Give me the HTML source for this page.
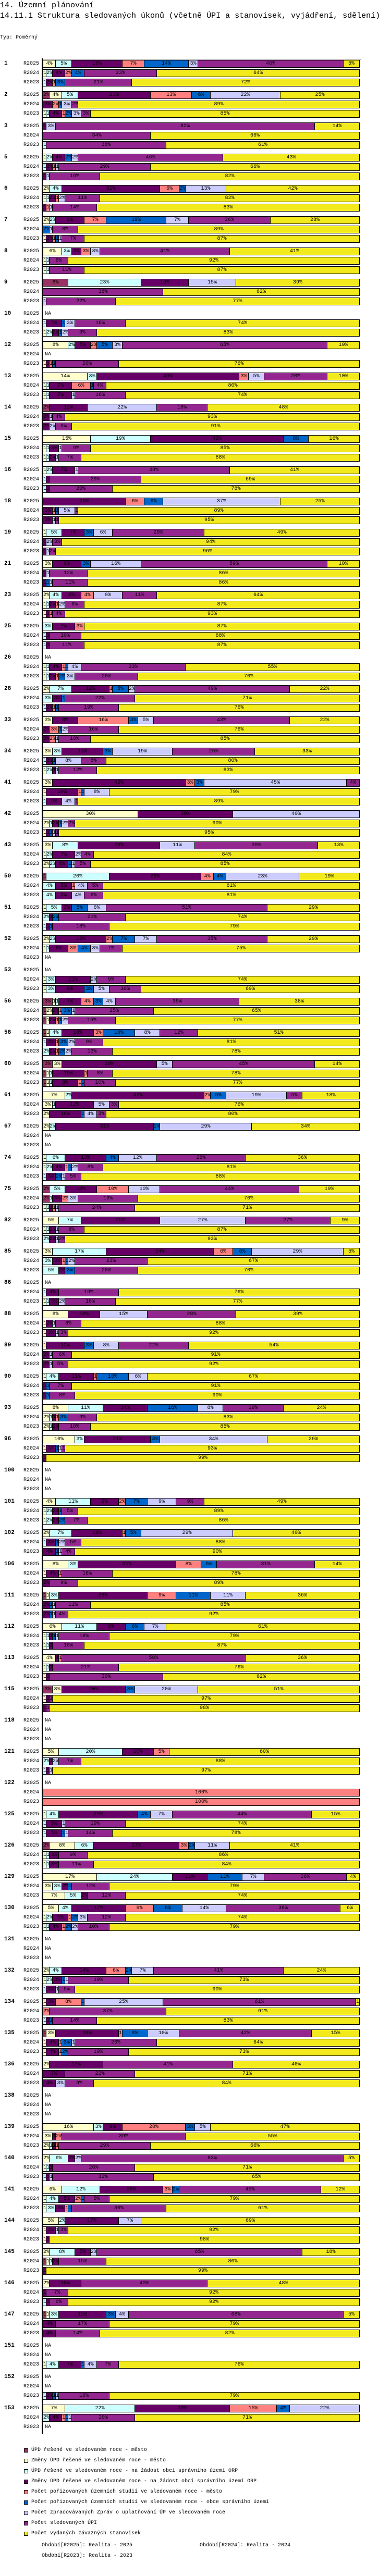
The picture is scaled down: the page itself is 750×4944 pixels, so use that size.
<!DOCTYPE html>
<html><head><meta charset="utf-8">
<style>
html,body{margin:0;padding:0;background:#fff}
body{width:750px;height:4944px;position:relative;overflow:hidden;font-family:"Liberation Mono",monospace;color:#000}
.t{position:absolute;white-space:nowrap}
.bar{position:absolute;height:15px;box-sizing:border-box;border:1px solid #000;display:flex;overflow:hidden}
.seg{height:100%;box-sizing:border-box;border-right:1px solid #000;overflow:hidden;text-align:center;font-size:10px;line-height:13px;white-space:nowrap;flex:none}
.seg:last-child{border-right:none}
.lg{position:absolute;width:8px;height:8px;border:1px solid #000;box-sizing:border-box}
</style></head><body>
<div class="t" style="left:0;top:2px;font-size:15px">14. Územní plánování</div>
<div class="t" style="left:0;top:22px;font-size:15px">14.11.1 Struktura sledovaných úkonů (včetně ÚPI a stanovisek, vyjádření, sdělení)</div>
<div class="t" style="left:0;top:67px;font-size:10px">Typ: Poměrný</div>
<div id="chart"></div>
<div id="legend"></div>
<div class="t" style="left:80px;top:4880px;font-size:10px">Období[R2025]: Realita - 2025</div>
<div class="t" style="left:383px;top:4880px;font-size:10px">Období[R2024]: Realita - 2024</div>
<div class="t" style="left:80px;top:4900px;font-size:10px">Období[R2023]: Realita - 2023</div>
<script>
const seriesNames=["ÚPD řešené ve sledovaném roce - město","Změny ÚPD řešené ve sledovaném roce - město","ÚPD řešené ve sledovaném roce - na žádost obcí správního území ORP","Změny ÚPD řešené ve sledovaném roce - na žádost obcí správního území ORP","Počet pořizovaných územních studií ve sledovaném roce - město","Počet pořizovaných územních studií ve sledovaném roce - obce správního území","Počet zpracovávaných Zpráv o uplatňování ÚP ve sledovaném roce","Počet sledovaných ÚPI","Počet vydaných závazných stanovisek"];
const seriesColors=["#993366","#ffffcc","#ccffff","#660066","#ff8080","#0066cc","#ccccff","#93278f","#f2ea1c"];
const periods=["R2025","R2024","R2023"];
const groups=[1,2,3,5,6,7,8,9,10,12,13,14,15,16,18,19,21,23,25,26,28,33,34,41,42,43,50,51,52,53,56,58,60,61,67,74,75,82,85,86,88,89,90,93,96,100,101,102,106,111,112,113,115,118,121,122,125,126,129,130,131,132,134,135,136,138,139,140,141,144,145,146,147,151,152,153];
const N=null;
const r2025=[[0,4,5,16,7,14,3,46,5],[2,4,5,23,13,6,22,0,25],[0,0,0,1,0,0,3,82,14],[0,1,2,4,0,2,2,46,43],[0,2,4,31,6,2,13,0,42],[0,2,2,9,7,19,7,26,28],[0,6,3,3,3,0,3,41,41],[8,0,23,15,0,0,15,0,39],N,[0,8,2,5,2,5,3,65,10],[0,14,3,45,3,0,5,20,10],[2,0,0,12,0,0,22,16,48],[0,15,19,42,0,8,0,0,16],[0,1,2,7,0,0,1,48,41],[0,0,0,26,6,6,37,0,25],
[0,1,5,7,0,3,6,29,49],[0,3,0,9,0,3,16,59,10],[0,2,4,6,4,0,9,11,64],[0,0,3,7,3,0,0,0,87],N,[0,2,7,12,1,5,2,49,22],[0,3,0,8,16,3,5,43,22],[0,3,3,13,0,3,19,26,33],
[0,3,0,42,3,3,45,4,0],[0,30,0,30,0,0,40,0,0],[0,3,8,26,0,0,11,39,13],[1,0,20,29,4,4,23,0,19],[0,1,5,3,0,5,6,51,29],[0,2,2,16,2,7,7,35,29],N,[3,1,1,7,4,3,4,39,38],
[1,1,4,10,3,10,8,12,51],[3,3,0,30,0,0,5,45,14],[0,7,2,42,2,5,19,5,18],[0,2,2,31,0,2,29,0,34],[0,1,6,13,0,4,12,28,36],[2,0,5,10,10,0,10,44,19],[0,5,7,25,0,0,27,27,9],[0,3,17,34,6,6,29,0,5],
N,[0,8,0,10,0,0,15,28,39],[0,1,0,12,0,3,8,22,54],[0,1,4,11,1,10,6,0,67],[0,8,11,14,0,16,8,19,24],[0,10,3,21,0,3,34,0,29],N,[0,4,11,9,2,7,9,9,49],
[0,2,7,16,1,5,29,0,40],[0,8,3,31,8,5,0,31,14],[1,1,3,28,9,11,11,0,36],[0,6,11,9,0,6,7,0,61],[0,4,0,1,1,0,0,58,36],[3,3,0,20,0,3,20,0,51],N,[0,5,20,10,5,0,0,0,60],
N,[0,1,4,25,0,4,7,44,15],[2,8,6,27,3,2,11,0,41],[0,17,24,11,0,11,7,26,4],[0,5,4,17,9,9,14,36,6],N,[0,2,4,14,6,2,7,41,24],[0,1,0,3,8,1,25,61,1],
[1,3,0,20,1,8,10,42,15],[0,2,0,17,0,0,0,41,40],N,[0,16,3,6,20,3,5,0,47],[0,2,6,2,0,0,2,83,5],[0,6,12,20,3,2,0,45,12],[0,5,2,17,0,0,7,0,69],[0,2,8,5,0,0,2,65,18],
[0,2,0,10,0,0,0,40,48],[1,1,3,15,0,3,4,68,5],N,N,[0,7,22,30,15,4,22,0,0]];
const r2024=[[0,1,2,4,2,4,0,23,64],[0,0,0,3,2,1,3,2,89],[0,0,0,0,0,0,0,34,66],[0,0,1,2,1,0,1,29,66],[0,1,1,2,1,0,2,11,82],[0,0,0,0,0,2,1,8,89],[0,1,1,0,0,0,0,6,92],[0,0,0,0,0,0,0,38,62],[0,0,1,5,0,1,3,16,74],N,[0,1,1,7,6,1,0,4,80],[0,0,0,2,0,0,1,4,93],[0,1,1,3,0,0,1,9,85],[0,0,1,1,0,0,0,29,69],[0,0,0,3,1,1,5,1,89],
[0,0,0,1,0,0,2,3,94],[0,0,0,1,0,0,1,12,86],[0,1,1,2,1,0,2,6,87],[0,0,1,1,0,0,0,10,88],[0,1,1,4,1,1,4,33,55],[0,0,3,3,0,1,0,22,71],[0,0,0,2,3,1,2,16,76],[0,0,1,2,0,1,8,8,80],
[0,1,0,10,1,1,8,0,79],[0,2,1,2,0,1,2,2,90],[0,1,2,7,0,0,2,4,84],[0,0,4,5,1,0,4,5,81],[0,0,2,1,0,2,0,21,74],[0,1,1,6,3,4,3,7,75],[0,1,3,11,0,0,2,9,74],[1,2,0,2,1,3,1,25,65],
[0,0,1,3,1,3,2,9,81],[1,1,1,10,1,0,0,8,78],[0,3,1,12,0,0,5,3,76],N,[0,1,2,4,1,1,2,8,81],[2,0,1,3,2,0,3,19,70],[0,1,1,2,0,0,1,8,87],[0,0,3,3,1,1,2,23,67],
[0,0,1,4,0,0,0,19,76],[0,1,0,2,0,0,1,8,88],[0,0,0,2,0,0,1,6,91],[0,0,0,1,0,1,0,7,91],[0,2,1,1,1,3,0,9,83],[0,1,0,3,0,1,1,1,93],N,[0,1,2,2,0,1,0,5,89],
[0,0,1,3,0,1,2,5,88],[0,1,0,4,1,0,0,16,78],[0,0,0,2,0,1,1,11,85],[0,1,1,1,0,1,1,16,79],[0,1,1,1,0,0,0,21,76],[0,1,0,1,0,0,0,1,97],N,[0,0,2,1,0,0,2,7,88],
[0,0,0,0,100,0,0,0,0],[0,0,1,5,0,0,1,19,74],[0,1,1,3,0,0,0,9,86],[0,3,3,2,0,1,0,12,79],[0,1,2,5,1,2,3,12,74],N,[0,1,2,3,0,1,1,19,73],[0,0,0,0,2,0,0,37,61],
[0,1,0,4,1,3,1,26,64],[0,0,0,7,0,0,0,22,71],N,[0,3,0,1,2,0,0,39,55],[0,1,1,1,0,0,0,26,71],[0,1,4,5,2,1,0,8,79],[0,1,0,3,0,0,1,3,92],[1,1,1,2,0,0,0,15,80],
[0,0,0,1,0,0,0,7,92],[0,0,0,4,0,0,0,17,79],N,N,[0,0,2,4,1,1,1,20,71]];
const r2023=[[0,0,1,2,1,3,0,21,72],[0,1,1,4,1,2,3,3,85],[0,0,1,0,0,0,0,38,61],[0,0,0,1,0,0,1,16,82],[0,0,0,1,1,0,1,14,83],[0,1,0,2,1,1,1,7,87],[0,1,1,0,0,0,0,11,87],[0,0,0,0,0,0,1,22,77],[0,1,2,2,0,1,2,9,83],[0,1,0,1,1,1,0,20,76],[0,1,1,7,0,0,1,16,74],[0,0,0,2,0,0,2,5,91],[0,1,1,2,0,0,1,7,88],[0,0,1,1,0,0,0,20,78],[0,0,0,3,0,0,1,1,95],
[0,0,0,1,0,0,1,2,96],[0,0,0,1,0,1,1,11,86],[0,1,0,1,1,0,0,4,93],[0,0,1,1,0,0,0,11,87],[0,1,1,2,1,2,3,20,70],[0,0,1,2,1,1,0,19,76],[0,0,0,2,2,0,1,10,85],[0,1,2,1,0,0,1,12,83],
[0,0,1,5,0,0,4,1,89],[0,1,0,1,0,1,1,1,95],[0,2,2,4,0,1,1,5,85],[0,0,4,5,0,0,4,6,81],[0,0,1,1,0,1,0,18,79],N,[0,1,3,9,0,3,5,10,69],[1,1,0,2,1,1,2,15,77],
[0,0,2,2,1,2,2,13,78],[1,1,1,8,1,1,0,10,77],[0,2,0,10,0,1,4,3,80],N,[0,0,1,3,0,2,1,5,88],[0,1,1,1,1,0,1,24,71],[0,0,2,2,0,0,1,2,93],[0,0,5,2,0,3,0,20,70],
[0,1,1,3,0,0,2,16,77],[0,1,0,3,0,0,1,3,92],[0,0,0,2,0,0,1,5,92],[0,0,0,1,0,1,0,8,90],[0,2,1,2,0,0,0,10,85],[0,0,0,1,0,0,0,0,99],N,[0,1,2,2,0,2,0,7,86],
[0,0,0,4,0,1,1,4,90],[0,0,0,2,0,0,0,9,89],[0,0,0,2,0,1,1,4,92],[0,1,1,1,0,0,0,10,87],[0,1,0,1,0,0,0,36,62],[0,0,0,1,0,0,0,1,98],N,[0,0,1,1,0,0,1,0,97],
[0,0,0,0,100,0,0,0,0],[0,0,1,5,0,1,1,14,78],[0,1,1,3,0,0,0,11,84],[0,7,5,2,0,0,0,12,74],[0,1,1,4,1,2,2,10,79],N,[0,0,1,3,0,0,1,5,90],[0,0,1,1,0,1,0,14,83],
[0,1,0,4,1,2,0,19,73],[0,0,0,4,0,0,3,9,84],N,[0,2,1,1,1,0,0,29,66],[0,0,1,1,0,0,1,32,65],[0,1,3,3,1,1,0,30,61],[0,1,0,1,0,0,0,0,98],[0,0,0,1,0,0,0,0,99],
[0,0,1,1,0,0,0,6,92],[0,0,0,4,0,0,0,14,82],[0,1,4,7,0,1,4,7,76],[0,0,1,2,0,1,1,16,79],N];

const X0=82, W=606, TOP=114.5, GP=60, RP=18;
function xScale(v,sum){return v/sum*W;}
function yRow(g,r){return TOP+g*GP+r*RP;}
const chart=document.getElementById('chart');
const axis=document.createElement('div');


axis.style.cssText='position:absolute;left:80px;top:112px;width:2px;height:'+(yRow(groups.length-1,2)+20-112)+'px;background:#000';
chart.appendChild(axis);
const topLine=document.createElement('div');


topLine.style.cssText='position:absolute;left:80px;top:113px;width:613px;height:1px;background:#000';
chart.appendChild(topLine);
const all=[r2025,r2024,r2023];
groups.forEach((gl,g)=>{
  const lab=document.createElement('div');
  lab.className='t';
  
  
  lab.style.cssText='left:8px;top:'+(yRow(g,0)+1)+'px;font-size:11px;font-weight:bold;line-height:13px';
  lab.textContent=gl;
  chart.appendChild(lab);
  periods.forEach((p,r)=>{
    const y=yRow(g,r);
    const pl=document.createElement('div');
    pl.className='t';
    
    
    pl.style.cssText='left:45px;top:'+(y+1)+'px;font-size:10px;line-height:13px';
    pl.textContent=p;
    chart.appendChild(pl);
    const vals=all[r][g];
    if(!vals){
      const na=document.createElement('div');
      na.className='t';
      
      
      na.style.cssText='left:86px;top:'+(y+1)+'px;font-size:10px;line-height:13px';
      na.textContent='NA';
      chart.appendChild(na);
      return;
    }
    const sum=vals.reduce((a,b)=>a+b,0);
    const bar=document.createElement('div');
    bar.className='bar';
    
    
    bar.style.left=X0+'px';bar.style.top=y+'px';bar.style.width=(W+2)+'px';
    let acc=0, prev=0;
    vals.forEach((v,i)=>{
      if(v<=0)return;
      acc+=xScale(v,sum);
      const w=Math.round(acc)-prev; prev=Math.round(acc);
      const s=document.createElement('div');
      s.className='seg';
      
      
      s.style.width=w+'px';
      s.style.background=seriesColors[i];
      s.textContent=Math.round(v/sum*100)+'%';
      bar.appendChild(s);
    });
    chart.appendChild(bar);
  });
});
const lg=document.getElementById('legend');
seriesNames.forEach((n,i)=>{
  const y=4697+i*20;
  const sq=document.createElement('div');
  sq.className='lg';
  
  
  sq.style.left='46px';sq.style.top=(y+2)+'px';sq.style.background=seriesColors[i];
  lg.appendChild(sq);
  const t=document.createElement('div');
  t.className='t';
  
  
  t.style.cssText='left:60px;top:'+(y-1)+'px;font-size:10px;line-height:13px';
  t.textContent=n;
  lg.appendChild(t);
});
</script>
</body></html>
